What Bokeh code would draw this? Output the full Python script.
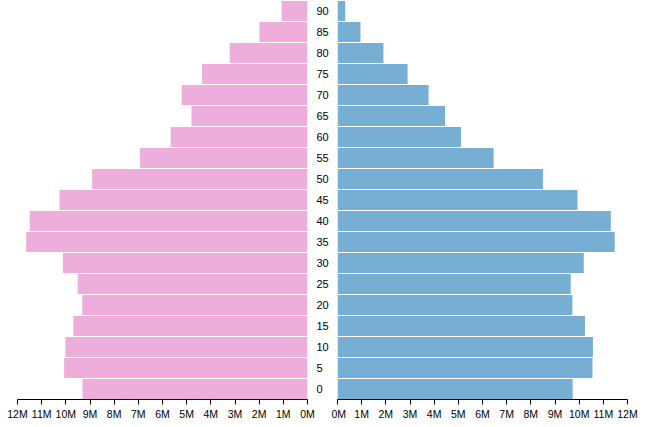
from bokeh.plotting import figure
from bokeh.layouts import row
from bokeh.models import Range1d, FactorRange, FixedTicker, PrintfTickFormatter
from bokeh.embed import file_html
from bokeh.resources import INLINE

ages = ["0", "5", "10", "15", "20", "25", "30", "35", "40", "45",
        "50", "55", "60", "65", "70", "75", "80", "85", "90"]
# population in millions
women = [9.31, 10.07, 10.02, 9.69, 9.32, 9.51, 10.12, 11.64, 11.49, 10.26,
         8.91, 6.93, 5.66, 4.80, 5.20, 4.36, 3.22, 1.99, 1.07]
men = [9.73, 10.55, 10.57, 10.24, 9.72, 9.65, 10.19, 11.47, 11.31, 9.93,
       8.50, 6.46, 5.11, 4.45, 3.77, 2.90, 1.90, 0.95, 0.32]
tick_values = list(range(0, 13))

PINK = "#eeaedb"
BLUE = "#77aed3"
FONT = "Liberation Sans"


def style_x(p):
    ax = p.xaxis[0]
    ax.ticker = FixedTicker(ticks=tick_values)
    ax.formatter = PrintfTickFormatter(format="%dM")
    ax.major_tick_out = 5
    ax.major_tick_in = 0
    ax.minor_tick_line_color = None
    ax.axis_line_color = "#000000"
    ax.major_tick_line_color = "#000000"
    ax.major_label_text_font = FONT
    ax.major_label_text_font_size = "10.5px"
    ax.major_label_text_color = "#000000"
    ax.major_label_standoff = 3


common = dict(frame_width=290, frame_height=399, output_backend="svg",
              toolbar_location=None, min_border_top=0, min_border_bottom=26)

left = figure(x_range=Range1d(12, 0),
              y_range=FactorRange(factors=ages, range_padding=0),
              min_border_left=17, min_border_right=22,
              y_axis_location="right", **common)
left.hbar(y=ages, left=0, right=women, height=0.95, color=PINK, line_color=None)
style_x(left)
ya = left.yaxis[0]
ya.axis_line_color = None
ya.major_tick_line_color = None
ya.minor_tick_line_color = None
ya.major_tick_out = 0
ya.major_tick_in = 0
ya.major_label_text_font = FONT
ya.major_label_text_font_size = "11px"
ya.major_label_text_color = "#000000"
ya.major_label_standoff = 9

right = figure(x_range=Range1d(0, 12),
               y_range=FactorRange(factors=ages, range_padding=0),
               min_border_left=6, min_border_right=30,
               y_axis_location=None, **common)
right.hbar(y=ages, left=0, right=men, height=0.95, color=BLUE, line_color=None)
style_x(right)

for p in (left, right):
    p.xgrid.grid_line_color = None
    p.ygrid.grid_line_color = None
    p.outline_line_color = None

layout = row(left, right, spacing=0)
open("out.html", "w").write(file_html(layout, INLINE))
